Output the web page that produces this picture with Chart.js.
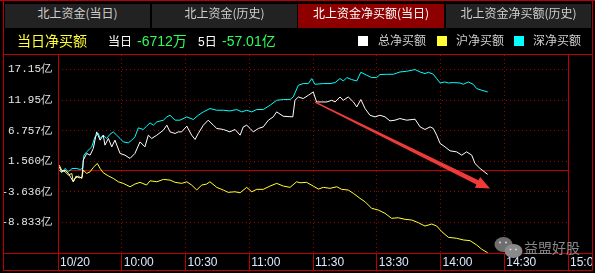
<!DOCTYPE html>
<html>
<head>
<meta charset="utf-8">
<script src="https://cdn.jsdelivr.net/npm/chart.js@4"></script>
<style>
  body { margin: 0; background: #000; }
  #wrap { position: relative; width: 595px; height: 273px; overflow: hidden; background: #000; }
  #c { position: absolute; left: 0; top: 0; }
  .tab { position: absolute; top: 4px; height: 24px; line-height: 24px; text-align: center;
         font: 12px "Noto Sans CJK SC", sans-serif; color: #cfcfcf; background: #222; }
  .tab.on { background: #8e0000; color: #fff; }
  .t { position: absolute; white-space: nowrap; font-family: "Liberation Sans", "Noto Sans CJK SC", sans-serif; }
  .sq { position: absolute; top: 36px; width: 10px; height: 10px; }
</style>
</head>
<body>
<div id="wrap">
  <canvas id="c" width="595" height="273"></canvas>

  <div class="tab" style="left:5px;width:145px">北上资金(当日)</div>
  <div class="tab" style="left:152px;width:145px">北上资金(历史)</div>
  <div class="tab on" style="left:298px;width:146px">北上资金净买额(当日)</div>
  <div class="tab" style="left:446px;width:145px">北上资金净买额(历史)</div>

  <span class="t" style="left:17px;top:32px;font-size:14px;line-height:18px;color:#ffff33">当日净买额</span>
  <span class="t" style="left:108px;top:34px;font-size:12px;line-height:16px;color:#fff">当日</span>
  <span class="t" style="left:137px;top:32px;font-size:14px;line-height:18px;color:#2cff5a">-6712万</span>
  <span class="t" style="left:198px;top:34px;font-size:12px;line-height:16px;color:#fff">5日</span>
  <span class="t" style="left:222px;top:32px;font-size:14px;line-height:18px;color:#2cff5a">-57.01亿</span>

  <div class="sq" style="left:358px;background:#fff"></div>
  <span class="t" style="left:378px;top:33px;font-size:12px;line-height:16px;color:#cfcfcf">总净买额</span>
  <div class="sq" style="left:437px;background:#ffff33"></div>
  <span class="t" style="left:456px;top:33px;font-size:12px;line-height:16px;color:#cfcfcf">沪净买额</span>
  <div class="sq" style="left:514px;background:#00ffff"></div>
  <span class="t" style="left:533px;top:33px;font-size:12px;line-height:16px;color:#cfcfcf">深净买额</span>

  <span class="t" style="left:524px;top:240px;font-size:14px;line-height:17px;color:#8a8a8a">益盟好股</span>
</div>

<script>
// ---------- data (minutes since 9:30 on a 240-minute trading axis, values in 亿) ----------
const xTicks = [0, 30, 60, 90, 120, 150, 180, 210, 240];
const xTickLabels = ["10/20", "10:00", "10:30", "11:00", "11:30", "13:30", "14:00", "14:30", "15:00"];
const yTicks = [17.15, 11.95, 6.757, 1.560, -3.636, -8.833];
const yTickLabels = ["17.15亿", "11.95亿", "6.757亿", "1.560亿", "-3.636亿", "-8.833亿"];
const yMin = -14.07, yMax = 19.62;

const seriesNames = ["总净买额", "沪净买额", "深净买额"];
const seriesColors = ["#ffffff", "#ffff33", "#00ffff"];

// 总净买额
const totalPts = [[0.6,0.59],[1.7,-0.25],[3.3,0.03],[4.9,-0.53],[6.0,-1.21],[7.2,-1.95],[8.5,-0.99],[10.0,-1.27],[11.3,-1.21],[11.9,1.73],[13.5,2.87],[15.1,2.58],[16.6,3.72],[18.2,6.54],[19.8,5.13],[21.3,5.98],[22.1,4.28],[23.7,5.42],[25.3,3.99],[26.8,5.13],[29.2,2.87],[31.5,2.58],[33.9,2.02],[36.2,2.87],[38.6,4.84],[40.9,3.99],[42.5,5.98],[44.1,5.42],[46.5,5.98],[49.6,6.83],[51.2,7.68],[52.7,6.54],[55.1,6.27],[56.6,6.54],[58.2,6.54],[60.6,7.51],[62.9,5.98],[64.5,5.25],[66.0,6.27],[68.4,7.68],[70.7,8.53],[73.1,7.68],[74.7,7.12],[77.8,6.95],[80.9,6.54],[83.3,6.95],[85.7,5.98],[87.2,7.39],[88.8,7.68],[90.4,7.12],[91.9,6.54],[94.3,7.12],[96.6,7.39],[99.0,8.53],[101.3,9.09],[102.9,9.94],[106.0,9.20],[110.5,9.09],[111.5,11.92],[113.1,12.48],[115.4,12.21],[117.8,12.77],[120.1,13.33],[121.7,11.63],[124.1,11.63],[126.5,11.63],[128.8,11.92],[130.4,11.63],[132.7,12.48],[134.3,11.92],[136.6,12.48],[139.0,11.63],[140.6,10.78],[142.5,12.04],[144.5,10.51],[146.8,9.37],[149.2,9.09],[151.5,9.37],[153.9,9.09],[156.2,8.41],[158.6,8.53],[160.9,8.81],[164.1,8.53],[168.0,8.70],[170.4,7.39],[172.7,6.95],[175.1,7.39],[176.6,7.12],[178.2,5.98],[179.8,4.57],[182.1,3.99],[184.5,3.31],[187.6,3.14],[190.0,2.58],[192.3,3.14],[194.7,2.58],[196.2,1.17],[198.6,0.32],[202.2,-0.70]];

// 沪净买额
const shPts = [[0.6,0.88],[1.7,0.03],[3.3,-0.25],[4.9,-0.82],[6.5,-0.53],[7.2,-1.95],[8.0,-1.38],[9.6,-0.99],[11.2,-1.38],[11.9,0.03],[13.5,-0.53],[15.1,-0.25],[16.6,0.49],[18.5,1.17],[19.8,0.32],[21.3,-0.42],[23.7,-0.95],[26.0,-1.38],[28.4,-1.95],[30.7,-2.22],[33.9,-2.80],[36.2,-2.34],[38.6,-2.05],[41.7,-2.51],[43.3,-1.78],[46.5,-1.95],[49.6,-1.55],[52.7,-1.66],[55.1,-2.05],[58.2,-2.22],[60.6,-1.95],[62.9,-2.51],[65.3,-3.36],[67.6,-2.51],[70.0,-2.34],[71.5,-1.95],[74.7,-2.90],[77.8,-3.36],[80.1,-3.75],[83.3,-3.65],[85.7,-3.82],[88.8,-2.90],[91.2,-3.65],[93.5,-3.24],[96.6,-3.24],[99.8,-2.68],[102.9,-2.22],[106.0,-2.68],[109.2,-2.90],[112.3,-1.95],[113.9,-2.12],[117.0,-2.05],[120.1,-2.68],[122.5,-3.19],[124.9,-2.90],[128.0,-3.07],[131.2,-2.80],[133.5,-3.24],[136.6,-3.36],[139.0,-3.92],[142.1,-4.77],[144.5,-5.35],[147.6,-6.47],[150.7,-6.76],[153.9,-7.32],[157.0,-8.17],[160.1,-8.07],[163.3,-8.34],[166.5,-8.46],[169.6,-8.92],[172.7,-9.48],[175.9,-9.14],[178.2,-9.48],[180.6,-10.44],[183.7,-11.40],[187.6,-11.57],[190.7,-11.85],[193.9,-11.97],[197.0,-12.70],[199.4,-13.43],[202.2,-14.03]];

// 深净买额
const szPts = [[0.6,0.03],[1.7,-0.42],[3.3,0.32],[4.9,-0.25],[6.6,0.29],[8.5,0.32],[10.4,0.15],[11.6,0.32],[12.2,2.58],[13.5,3.14],[15.9,3.99],[17.4,5.69],[19.0,6.27],[19.8,5.42],[21.3,5.98],[22.9,5.42],[24.5,6.15],[26.0,6.54],[27.6,5.98],[29.2,5.42],[30.7,4.84],[33.1,4.67],[34.7,5.13],[36.2,5.69],[37.8,7.22],[40.1,6.95],[41.7,7.51],[43.3,8.07],[44.9,7.68],[46.5,8.24],[49.6,8.53],[51.2,9.09],[52.7,9.37],[55.1,8.53],[57.4,8.53],[60.6,9.09],[63.7,8.64],[66.0,9.37],[68.4,9.94],[71.5,10.51],[74.7,10.22],[77.8,10.22],[80.9,10.10],[84.1,10.34],[86.5,9.94],[88.8,10.22],[91.2,9.94],[93.5,10.34],[96.6,10.34],[99.8,11.07],[102.9,11.92],[106.0,12.04],[109.2,12.04],[110.7,12.48],[113.1,14.47],[115.4,14.76],[117.8,14.76],[119.4,15.61],[120.9,14.64],[124.9,14.76],[128.0,14.76],[130.4,14.93],[132.7,15.61],[134.3,15.20],[135.9,15.78],[138.2,15.44],[140.6,15.20],[142.5,16.68],[145.3,16.17],[147.6,15.78],[150.0,15.78],[151.5,16.29],[154.7,16.34],[157.8,16.34],[160.9,16.73],[164.1,16.85],[168.0,17.14],[170.4,16.73],[172.7,16.46],[174.3,16.68],[176.6,16.34],[178.2,15.61],[179.8,14.86],[182.1,15.03],[183.7,14.86],[186.0,14.93],[189.2,14.86],[190.7,14.64],[193.1,15.03],[195.4,14.64],[197.0,13.91],[199.4,13.62],[202.2,13.33]];

// hand-drawn arrow annotation, in data units [minute, value]
const arrowFrom = [121.0, 11.6];
const arrowTo = [203.3, -3.1];

const RED = "#c00000";
const DOT_RED = "#a00000";

// ---------- plugin: frame, zero line, arrow, watermark logo ----------
function hline(ctx, x1, x2, y) { ctx.beginPath(); ctx.moveTo(x1, y); ctx.lineTo(x2, y); ctx.stroke(); }
function vline(ctx, x, y1, y2) { ctx.beginPath(); ctx.moveTo(x, y1); ctx.lineTo(x, y2); ctx.stroke(); }

const framePlugin = {
  id: "frame",
  beforeDraw(chart) {
    const ctx = chart.ctx;
    ctx.save();
    ctx.fillStyle = "#000";
    ctx.fillRect(0, 0, chart.width, chart.height);
    ctx.restore();
  },
  beforeDatasetsDraw(chart) {
    const ctx = chart.ctx, a = chart.chartArea;
    const y0 = Math.round(chart.scales.y.getPixelForValue(0)) + 0.5;
    ctx.save();
    ctx.strokeStyle = RED;
    ctx.lineWidth = 1;
    hline(ctx, a.left, a.right, y0);
    ctx.restore();
  },
  afterDatasetsDraw(chart) {
    const ctx = chart.ctx, xs = chart.scales.x, ys = chart.scales.y;
    const x1 = xs.getPixelForValue(arrowFrom[0]), y1 = ys.getPixelForValue(arrowFrom[1]);
    const x2 = xs.getPixelForValue(arrowTo[0]), y2 = ys.getPixelForValue(arrowTo[1]);
    const len = Math.hypot(x2 - x1, y2 - y1);
    const ux = (x2 - x1) / len, uy = (y2 - y1) / len;
    const nx = -uy, ny = ux;
    const headLen = 14, headW = 6, w0 = 0.7, w1 = 2.3;
    const bx = x2 - ux * headLen, by = y2 - uy * headLen;
    ctx.save();
    ctx.fillStyle = "#f03a3a";
    ctx.beginPath();
    ctx.moveTo(x1 + nx * w0, y1 + ny * w0);
    ctx.lineTo(bx + nx * w1, by + ny * w1);
    ctx.lineTo(bx + nx * headW, by + ny * headW);
    ctx.lineTo(x2, y2);
    ctx.lineTo(bx - nx * headW, by - ny * headW);
    ctx.lineTo(bx - nx * w1, by - ny * w1);
    ctx.lineTo(x1 - nx * w0, y1 - ny * w0);
    ctx.closePath();
    ctx.fill();
    ctx.restore();
  },
  afterDraw(chart) {
    const ctx = chart.ctx, a = chart.chartArea;
    const L = 3.5, R = 592.5, B = 270.5;
    const top = Math.round(a.top) - 0.5, bot = Math.round(a.bottom) + 0.5;
    const pl = Math.round(a.left) + 0.5, pr = Math.round(a.right) + 0.5;
    ctx.save();
    // hide label spill past the right border
    ctx.fillStyle = "#000";
    ctx.fillRect(593, 0, 2, chart.height);
    ctx.strokeStyle = RED;
    ctx.lineWidth = 1;
    hline(ctx, 0, 595, 0.5);
    vline(ctx, L, 0, B);
    vline(ctx, R, 0, B);
    hline(ctx, L, R, top);
    hline(ctx, L, R, bot);
    hline(ctx, L, R, B);
    vline(ctx, pl, top, B);
    vline(ctx, pr, top, B);

    // WeChat-style watermark logo
    ctx.fillStyle = "#6e6e6e";
    ctx.beginPath(); ctx.ellipse(503.5, 244.5, 9, 7.5, 0, 0, Math.PI * 2); ctx.fill();
    ctx.fillStyle = "#8a8a8a";
    ctx.beginPath(); ctx.ellipse(513.5, 251, 9, 7, 0, 0, Math.PI * 2); ctx.fill();
    ctx.fillStyle = "#cfcfcf";
    [[500, 242.5], [506, 242.5], [510.5, 249.5], [516, 249.5]].forEach(([ex, ey]) => {
      ctx.beginPath(); ctx.arc(ex, ey, 1.1, 0, Math.PI * 2); ctx.fill();
    });
    ctx.restore();
  }
};

// ---------- chart ----------
const makeSet = (pts, i) => ({
  label: seriesNames[i],
  data: pts.map(p => ({ x: p[0], y: p[1] })),
  borderColor: seriesColors[i],
  borderWidth: 1,
  pointRadius: 0,
  tension: 0,
  fill: false
});

new Chart(document.getElementById("c"), {
  type: "line",
  data: { datasets: [makeSet(totalPts, 0), makeSet(shPts, 1), makeSet(szPts, 2)] },
  options: {
    responsive: false,
    devicePixelRatio: 1,
    animation: false,
    layout: { padding: { left: 3, top: 55, right: 27, bottom: 3 } },
    plugins: { legend: { display: false }, tooltip: { enabled: false } },
    scales: {
      x: {
        type: "linear",
        min: 0, max: 240,
        afterBuildTicks: s => { s.ticks = xTicks.map(v => ({ value: v })); },
        afterFit: s => { s.height = 17; },
        ticks: {
          autoSkip: false, maxRotation: 0, minRotation: 0,
          align: "start", labelOffset: 2, padding: -15,
          color: "#dce9ff",
          font: { family: "Liberation Sans", size: 12 },
          callback: (v, i) => xTickLabels[i]
        },
        grid: { color: DOT_RED, tickColor: RED, tickLength: 17, tickBorderDash: [] },
        border: { display: false, dash: [1, 3] }
      },
      y: {
        min: yMin, max: yMax,
        afterBuildTicks: s => { s.ticks = yTicks.map(v => ({ value: v })); },
        afterFit: s => { s.width = 55; },
        ticks: {
          padding: 6,
          color: "#e6e6e6",
          font: { family: "Liberation Mono", size: 11 },
          callback: (v, i) => yTickLabels[i]
        },
        grid: { color: DOT_RED, drawTicks: false },
        border: { display: false, dash: [1, 3] }
      }
    }
  },
  plugins: [framePlugin]
});
</script>
</body>
</html>
